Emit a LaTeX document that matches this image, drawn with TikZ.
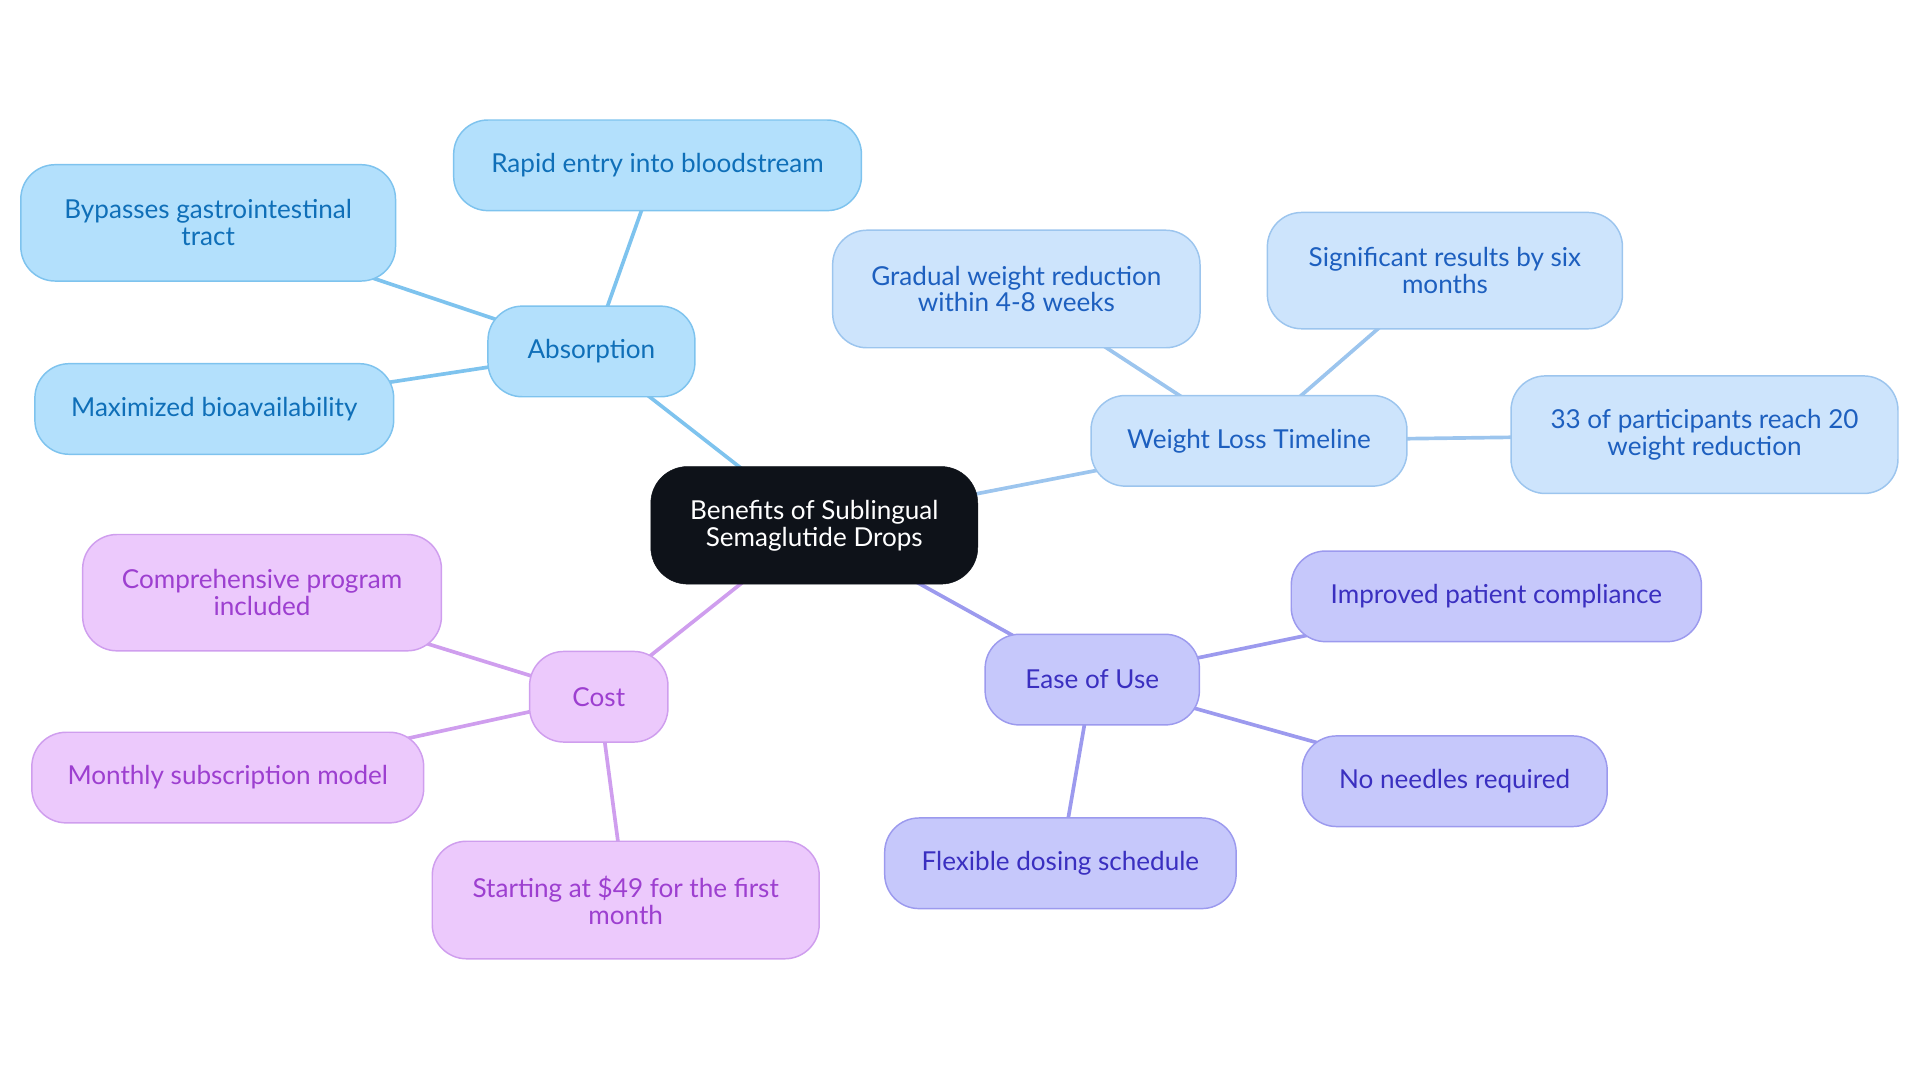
\documentclass[tikz,border=0pt]{standalone}
\usepackage{fontspec}
\setmainfont{Lato}
\usetikzlibrary{shapes.geometric, backgrounds}
\definecolor{rootfill}{HTML}{0E1219}
\definecolor{absfill}{HTML}{B3E0FC}
\definecolor{absline}{HTML}{7EC3EE}
\definecolor{abstext}{HTML}{0F6FB8}
\definecolor{wltfill}{HTML}{CDE4FC}
\definecolor{wltline}{HTML}{9CC5EE}
\definecolor{wlttext}{HTML}{1D5FBF}
\definecolor{easefill}{HTML}{C6C8FB}
\definecolor{easeline}{HTML}{9C9AEE}
\definecolor{easetext}{HTML}{3A2FC0}
\definecolor{costfill}{HTML}{ECC9FC}
\definecolor{costline}{HTML}{CF9EEE}
\definecolor{costtext}{HTML}{9D3FD0}
\tikzstyle{root} = [rectangle, rounded corners=30pt, minimum width=267pt, minimum height=96pt, align=center, draw=rootfill, fill=rootfill, text=white]
\tikzstyle{leaf} = [rectangle, rounded corners=28pt, minimum height=74pt, align=center, line width=1.2pt]
\tikzstyle{absorb} = [leaf, draw=absline, fill=absfill, text=abstext]
\tikzstyle{timeline} = [leaf, draw=wltline, fill=wltfill, text=wlttext]
\tikzstyle{ease} = [leaf, draw=easeline, fill=easefill, text=easetext]
\tikzstyle{cost} = [leaf, draw=costline, fill=costfill, text=costtext]
\tikzstyle{edge} = [line width=3pt]

\begin{document}
\begin{tikzpicture}[x=1pt, y=-1pt, font=\fontsize{21.3}{22}\selectfont]
\useasboundingbox (0,0) rectangle (1568,884.4);

\node (center) [root] at (665,429) {Benefits of Sublingual\\Semaglutide Drops};

% absorption branch
\node (absorb) [absorb, minimum width=169pt] at (483,287) {Absorption};
\node (rapid) [absorb, minimum width=333pt] at (537,135) {Rapid entry into bloodstream};
\node (bypass) [absorb, minimum width=306pt, minimum height=95pt] at (170,182) {Bypasses gastrointestinal\\tract};
\node (bioavail) [absorb, minimum width=293pt] at (175,334) {Maximized bioavailability};

% weight loss branch
\node (timeline) [timeline, minimum width=258pt] at (1020,360) {Weight Loss Timeline};
\node (gradual) [timeline, minimum width=300pt, minimum height=96pt] at (830,236) {Gradual weight reduction\\within 4-8 weeks};
\node (sixmonth) [timeline, minimum width=290pt, minimum height=95pt] at (1180,221) {Significant results by six\\months};
\node (reach) [timeline, minimum width=316pt, minimum height=96pt] at (1392,355) {33 of participants reach 20\\weight reduction};

% ease of use branch
\node (ease) [ease, minimum width=175pt] at (892,555) {Ease of Use};
\node (comply) [ease, minimum width=335pt] at (1222,487) {Improved patient compliance};
\node (needles) [ease, minimum width=249pt] at (1188,638) {No needles required};
\node (dosing) [ease, minimum width=287pt] at (866,705) {Flexible dosing schedule};

% cost branch
\node (cost) [cost, minimum width=113pt] at (489,569) {Cost};
\node (program) [cost, minimum width=293pt, minimum height=95pt] at (214,484) {Comprehensive program\\included};
\node (monthly) [cost, minimum width=320pt] at (186,635) {Monthly subscription model};
\node (start) [cost, minimum width=316pt, minimum height=96pt] at (511,735) {Starting at \$49 for the first\\month};

\begin{scope}[on background layer]
\draw [edge, absline] (center.center) -- (absorb.center);
\draw [edge, absline] (absorb.center) -- (rapid.center);
\draw [edge, absline] (absorb.center) -- (bypass.center);
\draw [edge, absline] (absorb.center) -- (bioavail.center);
\draw [edge, wltline] (center.center) -- (timeline.center);
\draw [edge, wltline] (timeline.center) -- (gradual.center);
\draw [edge, wltline] (timeline.center) -- (sixmonth.center);
\draw [edge, wltline] (timeline.center) -- (reach.center);
\draw [edge, easeline] (center.center) -- (ease.center);
\draw [edge, easeline] (ease.center) -- (comply.center);
\draw [edge, easeline] (ease.center) -- (needles.center);
\draw [edge, easeline] (ease.center) -- (dosing.center);
\draw [edge, costline] (center.center) -- (cost.center);
\draw [edge, costline] (cost.center) -- (program.center);
\draw [edge, costline] (cost.center) -- (monthly.center);
\draw [edge, costline] (cost.center) -- (start.center);
\end{scope}

\end{tikzpicture}
\end{document}
